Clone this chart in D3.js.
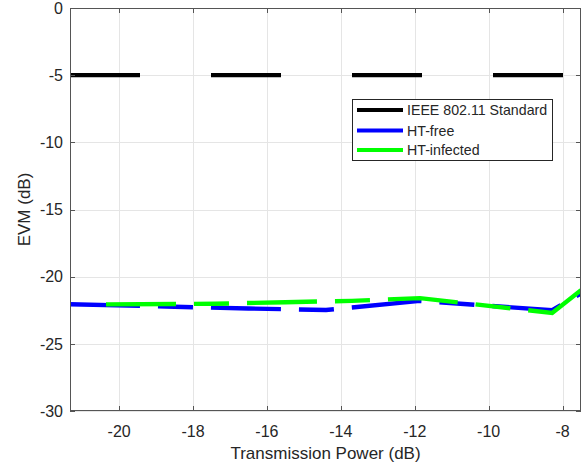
<!DOCTYPE html>
<html>
<head>
<meta charset="utf-8">
<script src="https://cdn.jsdelivr.net/npm/d3@7"></script>
<style>
  html, body { margin: 0; padding: 0; background: #fff; }
  svg { display: block; }
  text { font-family: "Liberation Sans", Arial, Helvetica, sans-serif; fill: #262626; }
</style>
</head>
<body>
<svg id="chart" width="587" height="466"></svg>
<script>
// ---- data ----
const xDomain = [-21.33, -7.5];
const yDomain = [-30, 0];
const xTicks = [-20, -18, -16, -14, -12, -10, -8];
const yTicks = [0, -5, -10, -15, -20, -25, -30];

const seriesNames = ["IEEE 802.11 Standard", "HT-free", "HT-infected"];
const seriesColors = ["#000000", "#0000ff", "#00ff00"];

const standardX = [-21.33, -7.5];
const standardY = [-5, -5];

const htFreeX = [-21.33, -18.5, -16.5, -14.4, -11.86, -8.28, -7.5];
const htFreeY = [-22.05, -22.24, -22.37, -22.48, -21.8, -22.5, -21.25];

const htInfX = [-21.33, -17.4, -15.5, -13.7, -11.86, -8.28, -7.5];
const htInfY = [-22.08, -22.02, -21.9, -21.8, -21.6, -22.7, -21.0];

const xLabel = "Transmission Power (dB)";
const yLabel = "EVM (dB)";

// ---- layout ----
const L = 70, R = 581, T = 8, B = 411;
const svg = d3.select("#chart");
const x = d3.scaleLinear().domain(xDomain).range([L, R]);
const y = d3.scaleLinear().domain(yDomain).range([B, T]);

// grid
const grid = svg.append("g").attr("stroke", "#e5e5e5").attr("stroke-width", 1);
xTicks.forEach(t => {
  const px = Math.round(x(t)) + 0.5;
  grid.append("line").attr("x1", px).attr("x2", px).attr("y1", T).attr("y2", B);
});
yTicks.forEach(t => {
  const py = Math.round(y(t)) + 0.5;
  grid.append("line").attr("x1", L).attr("x2", R).attr("y1", py).attr("y2", py);
});

// clip
svg.append("clipPath").attr("id", "clip")
  .append("rect").attr("x", L).attr("y", T).attr("width", R - L).attr("height", B - T);

const line = d3.line().x(d => x(d[0])).y(d => y(d[1]));
const plot = svg.append("g").attr("clip-path", "url(#clip)").attr("fill", "none");

const repeat = (arr, n) => Array.from({length: n}, () => arr).flat();

plot.append("path")
  .datum(d3.zip(standardX, standardY))
  .attr("d", line)
  .attr("stroke", seriesColors[0]).attr("stroke-width", 4.2)
  .attr("stroke-dasharray", "70 71");

plot.append("path")
  .datum(d3.zip(htFreeX, htFreeY))
  .attr("d", line)
  .attr("stroke", seriesColors[1]).attr("stroke-width", 4.4)
  .attr("stroke-dasharray", "70 18 35 18");

plot.append("path")
  .datum(d3.zip(htInfX, htInfY))
  .attr("d", line)
  .attr("stroke", seriesColors[2]).attr("stroke-width", 4.4)
  .attr("stroke-dasharray", [0, 36].concat(repeat([70, 18, 35, 18], 6)).join(" "));

// axes box
const axisColor = "#555";
svg.append("rect").attr("x", L + 0.5).attr("y", T + 0.5)
  .attr("width", R - L - 1).attr("height", B - T - 1)
  .attr("fill", "none").attr("stroke", axisColor).attr("stroke-width", 1);

// ticks (inward, all sides)
const tk = svg.append("g").attr("stroke", axisColor).attr("stroke-width", 1);
const tl = 5;
xTicks.forEach(t => {
  const px = Math.round(x(t)) + 0.5;
  tk.append("line").attr("x1", px).attr("x2", px).attr("y1", B).attr("y2", B - tl);
  tk.append("line").attr("x1", px).attr("x2", px).attr("y1", T).attr("y2", T + tl);
});
yTicks.forEach(t => {
  const py = Math.round(y(t)) + 0.5;
  tk.append("line").attr("x1", L).attr("x2", L + tl).attr("y1", py).attr("y2", py);
  tk.append("line").attr("x1", R).attr("x2", R - tl).attr("y1", py).attr("y2", py);
});

// tick labels
xTicks.forEach(t => {
  svg.append("text").attr("x", x(t)).attr("y", 437)
    .attr("text-anchor", "middle").attr("font-size", 16).text(t);
});
yTicks.forEach(t => {
  svg.append("text").attr("x", 63).attr("y", y(t) + 5.7)
    .attr("text-anchor", "end").attr("font-size", 16).text(t);
});

// axis labels
svg.append("text").attr("x", (L + R) / 2).attr("y", 459)
  .attr("text-anchor", "middle").attr("font-size", 17).text(xLabel);
svg.append("text").attr("transform", `translate(30,${(T + B) / 2}) rotate(-90)`)
  .attr("text-anchor", "middle").attr("font-size", 17).text(yLabel);

// legend
const lg = svg.append("g");
lg.append("rect").attr("x", 352.5).attr("y", 99.5).attr("width", 200).attr("height", 61)
  .attr("fill", "#fff").attr("stroke", "#262626").attr("stroke-width", 1);
const rowsY = [110, 130.5, 150];
seriesNames.forEach((name, i) => {
  lg.append("line").attr("x1", 357).attr("x2", 403).attr("y1", rowsY[i]).attr("y2", rowsY[i])
    .attr("stroke", seriesColors[i]).attr("stroke-width", 4);
  lg.append("text").attr("x", 407).attr("y", rowsY[i] + 5).attr("font-size", 14.2).text(name);
});
</script>
</body>
</html>
